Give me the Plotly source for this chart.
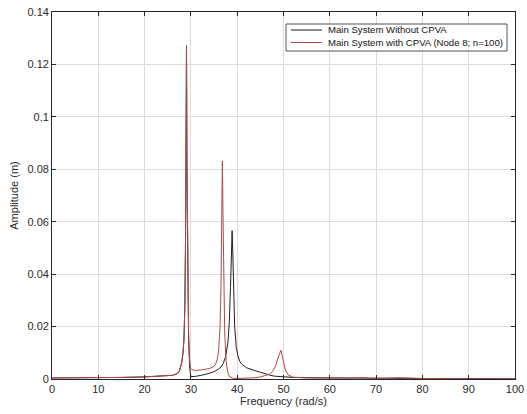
import plotly.graph_objects as go

# Main system without CPVA (black)
freq_without = [0, 5, 10, 15, 20, 23, 25, 26, 27, 27.5, 28, 28.3, 28.5, 28.7, 28.85, 28.95, 29.05,
                29.15, 29.3, 29.5, 29.75, 30, 31, 32, 33, 34, 35, 36, 36.5, 37, 37.5, 38, 38.3,
                38.55, 38.75, 38.9, 39.05, 39.2, 39.45, 39.8, 40.2, 40.6, 41, 42, 43, 44, 45, 46,
                47, 48, 50, 52, 55, 60, 65, 70, 75, 80, 90, 100]
amp_without = [0.0004, 0.0004, 0.0005, 0.0006, 0.0008, 0.0010, 0.0012, 0.0014, 0.0020, 0.0030,
               0.0060, 0.0100, 0.0150, 0.0280, 0.0550, 0.1000, 0.1274,
               0.0800, 0.0400, 0.0150, 0.0040, 0.0009, 0.0010, 0.0013, 0.0017, 0.0022, 0.0028,
               0.0038, 0.0046, 0.0060, 0.0085, 0.0140, 0.0220,
               0.0350, 0.0500, 0.0566, 0.0480, 0.0340, 0.0200, 0.0120, 0.0085, 0.0066, 0.0056,
               0.0043, 0.0036, 0.0031, 0.0026, 0.0020, 0.0015, 0.0011, 0.0008, 0.0006, 0.0005,
               0.0004, 0.0003, 0.0003, 0.0002, 0.0002, 0.0002, 0.0001]

# Main system with CPVA (Node 8; n=100) (red)
freq_with = [0, 5, 10, 15, 20, 23, 25, 26, 27, 27.5, 28, 28.3, 28.5, 28.7, 28.85, 28.95, 29.05,
             29.15, 29.3, 29.5, 29.7, 29.9, 30.5, 31, 32, 33, 34, 34.8, 35.3, 35.7, 36.0, 36.3,
             36.5, 36.65, 36.8, 36.95, 37.1, 37.3, 37.6, 37.9, 38.3, 38.7, 39, 40, 42, 44, 45, 46,
             47, 47.7, 48.3, 48.8, 49.2, 49.45, 49.7, 50, 50.4, 51, 52, 55, 60, 64, 66.5, 69,
             72, 75, 78, 80, 90, 100]
amp_with = [0.0004, 0.0004, 0.0005, 0.0006, 0.0008, 0.0010, 0.0012, 0.0014, 0.0020, 0.0030,
            0.0060, 0.0100, 0.0150, 0.0280, 0.0550, 0.1000, 0.1274,
            0.0850, 0.0450, 0.0180, 0.0080, 0.0040, 0.0034, 0.0033, 0.0034, 0.0036, 0.0040,
            0.0046, 0.0055, 0.0075, 0.0110, 0.0200,
            0.0350, 0.0600, 0.0832, 0.0600, 0.0380, 0.0180, 0.0070, 0.0030, 0.0010, 0.0004,
            0.0003, 0.0002, 0.0003, 0.0005, 0.0008, 0.0012,
            0.0018, 0.0030, 0.0050, 0.0080, 0.0105, 0.0110, 0.0090, 0.0060, 0.0035, 0.0016,
            0.0007, 0.0004, 0.0003, 0.0003, 0.0006, 0.0003,
            0.0003, 0.0005, 0.0003, 0.0002, 0.0001, 0.0001]

series_names = ["Main System Without CPVA", "Main System with CPVA (Node 8; n=100)"]
series_colors = ["#1e1e1e", "#b04848"]

x_ticks = [0, 10, 20, 30, 40, 50, 60, 70, 80, 90, 100]
y_ticks = [0, 0.02, 0.04, 0.06, 0.08, 0.1, 0.12, 0.14]
y_labels = ["0", "0.02", "0.04", "0.06", "0.08", "0.1", "0.12", "0.14"]

FONT = "Liberation Sans, Arial, sans-serif"

fig = go.Figure()
fig.add_trace(go.Scatter(x=freq_without, y=amp_without, mode="lines",
                         name=series_names[0], showlegend=False,
                         line=dict(color=series_colors[0], width=1)))
fig.add_trace(go.Scatter(x=freq_with, y=amp_with, mode="lines",
                         name=series_names[1], showlegend=False,
                         line=dict(color=series_colors[1], width=1)))

FIG_W, FIG_H = 527, 414
# plot area in pixels: left 52, right 515, top 12, bottom 379
L, R, T, B = 52, 515, 12, 379
W, H = R - L, B - T

def px(x):
    return (x - L) / W

def py(y):
    return (B - y) / H

# Legend drawn as a boxed key in the upper right
shapes = [dict(type="rect", xref="paper", yref="paper",
               x0=px(286), x1=px(507), y0=py(51), y1=py(24),
               line=dict(color="#262626", width=0.8), fillcolor="white", layer="above")]
annotations = []
rows = [30, 42.5]
for name, color, ry in zip(series_names, series_colors, rows):
    shapes.append(dict(type="line", xref="paper", yref="paper",
                       x0=px(291), x1=px(322), y0=py(ry), y1=py(ry),
                       line=dict(color=color, width=1), layer="above"))
    annotations.append(dict(xref="paper", yref="paper", x=px(326), y=py(ry),
                            xanchor="left", yanchor="middle", showarrow=False,
                            text=name, font=dict(family=FONT, size=9.6, color="#111")))

fig.update_layout(
    width=FIG_W, height=FIG_H,
    margin=dict(l=L, r=FIG_W - R, t=T, b=FIG_H - B),
    paper_bgcolor="white", plot_bgcolor="white",
    font=dict(family=FONT, size=11, color="#2a2a2a"),
    showlegend=False,
    shapes=shapes, annotations=annotations,
)
fig.update_xaxes(range=[0, 100], tickvals=x_ticks, ticks="inside", ticklen=4,
                 tickcolor="#262626", showline=True, linecolor="#262626", linewidth=0.8,
                 mirror="ticks", showgrid=True, gridcolor="#dcdcdc", gridwidth=1,
                 zeroline=False, automargin=False, ticklabeloverflow="allow",
                 title=dict(text="Frequency (rad/s)", standoff=2, font=dict(size=11)))
fig.update_yaxes(range=[0, 0.14], tickvals=y_ticks, ticktext=y_labels, ticks="inside",
                 ticklen=4, tickcolor="#262626", showline=True, linecolor="#262626",
                 linewidth=0.8, mirror="ticks", showgrid=True, gridcolor="#dcdcdc",
                 gridwidth=1, zeroline=False, automargin=False, ticklabeloverflow="allow",
                 title=dict(text="Amplitude (m)", standoff=6, font=dict(size=11)))

# remove the default 8px page margin so the figure fills the window exactly
fig.write_html("out.html",
               config={"displayModeBar": False},
               post_script="document.body.style.margin='0';document.body.style.overflow='hidden';")
